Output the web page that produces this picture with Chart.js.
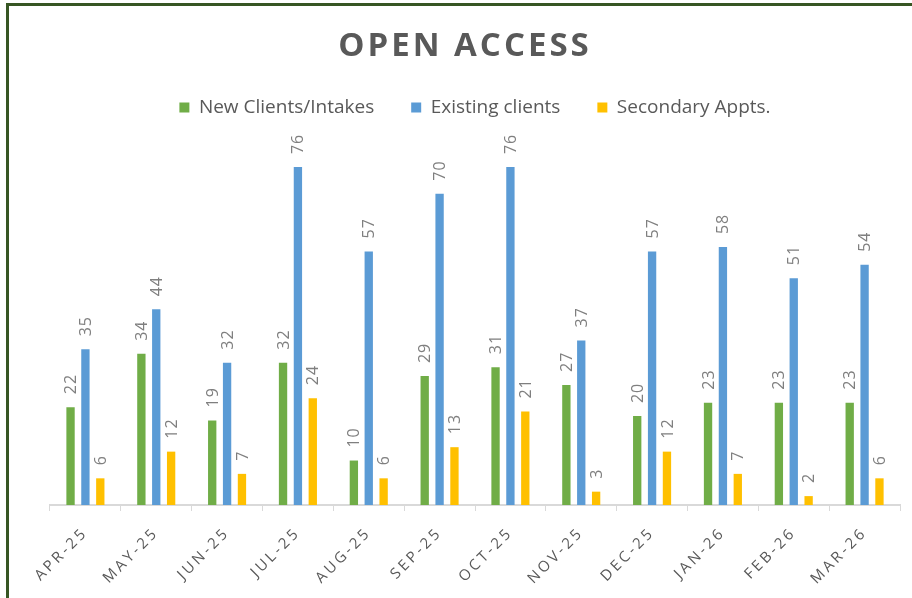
<!DOCTYPE html>
<html>
<head>
<meta charset="utf-8">
<script src="https://cdn.jsdelivr.net/npm/chart.js@4"></script>
<style>
html, body { margin: 0; padding: 0; background: #fff; overflow: hidden; }
#wrap { position: relative; width: 912px; height: 598px; }
#frame { position: absolute; left: 6px; top: 3px; width: 940px; height: 640px; border: 3px solid #375623; box-sizing: border-box; pointer-events: none; }
canvas { position: absolute; left: 0; top: 0; }
</style>
</head>
<body>
<div id="wrap">
  <canvas id="myChart" width="912" height="598"></canvas>
  <div id="frame"></div>
</div>
<script>
const chartTitle = 'OPEN ACCESS';
const months = ['APR-25', 'MAY-25', 'JUN-25', 'JUL-25', 'AUG-25', 'SEP-25', 'OCT-25', 'NOV-25', 'DEC-25', 'JAN-26', 'FEB-26', 'MAR-26'];
const newClients = [22, 34, 19, 32, 10, 29, 31, 27, 20, 23, 23, 23];
const existingClients = [35, 44, 32, 76, 57, 70, 76, 37, 57, 58, 51, 54];
const secondaryAppts = [6, 12, 7, 24, 6, 13, 21, 3, 12, 7, 2, 6];

const canvas = document.getElementById('myChart');

// category axis with spaced-out labels, like the original
class SpacedCategoryScale extends Chart.CategoryScale {
    drawLabels(area) {
        const ctx = this.ctx;
        const old = ctx.letterSpacing;
        ctx.letterSpacing = '3px';
        super.drawLabels(area);
        ctx.letterSpacing = old;
    }
}
SpacedCategoryScale.id = 'spacedCategory';
SpacedCategoryScale.defaults = Chart.CategoryScale.defaults;
Chart.register(SpacedCategoryScale);

const spacedTitle = {
    id: 'spacedTitle',
    afterDraw(chart) {
        const ctx = chart.ctx;
        ctx.save();
        ctx.font = 'bold 33px "Open Sans"';
        ctx.letterSpacing = '3px';
        ctx.fillStyle = '#595959';
        ctx.textAlign = 'center';
        ctx.textBaseline = 'middle';
        ctx.fillText(chartTitle, 465, 47);
        ctx.restore();
    }
};

const barLabels = {
    id: 'barLabels',
    afterDatasetsDraw(chart) {
        const ctx = chart.ctx;
        ctx.save();
        ctx.font = '16px "Open Sans"';
        ctx.letterSpacing = '1px';
        ctx.fillStyle = '#7f7f7f';
        ctx.textAlign = 'left';
        ctx.textBaseline = 'middle';
        chart.data.datasets.forEach((ds, i) => {
            chart.getDatasetMeta(i).data.forEach((bar, j) => {
                ctx.save();
                ctx.translate(bar.x + 1, bar.y - 13);
                ctx.rotate(-Math.PI / 2);
                ctx.fillText(String(ds.data[j]), 0, 0);
                ctx.restore();
            });
        });
        ctx.restore();
    }
};

const myChart = new Chart(canvas.getContext('2d'), {
    type: 'bar',
    data: {
        labels: months,
        datasets: [{
            label: 'New Clients/Intakes',
            data: newClients,
            backgroundColor: '#70ad47'
        }, {
            label: 'Existing clients',
            data: existingClients,
            backgroundColor: '#5b9bd5'
        }, {
            label: 'Secondary Appts.',
            data: secondaryAppts,
            backgroundColor: '#ffc000'
        }]
    },
    options: {
        responsive: false,
        animation: false,
        devicePixelRatio: 1,
        categoryPercentage: 0.63,
        barPercentage: 0.56,
        layout: { padding: { left: 50, right: 12, top: 61, bottom: 0 } },
        plugins: {
            legend: {
                position: 'top',
                labels: {
                    boxWidth: 10,
                    boxHeight: 10,
                    padding: 37,
                    color: '#595959',
                    font: { family: '"Open Sans"', size: 19 }
                }
            },
            tooltip: { enabled: false }
        },
        scales: {
            x: {
                type: 'spacedCategory',
                grid: {
                    offset: true,
                    drawOnChartArea: false,
                    drawTicks: true,
                    tickLength: 6,
                    color: '#d9d9d9'
                },
                border: { display: true, color: '#d9d9d9', width: 2 },
                ticks: {
                    minRotation: 45,
                    maxRotation: 45,
                    padding: 13,
                    color: '#595959',
                    font: { family: '"Open Sans"', size: 15 }
                },
                afterFit(scale) {
                    scale.paddingLeft = 0;
                    scale.paddingRight = 0;
                    scale.height = 93;
                }
            },
            y: {
                display: false,
                min: 0,
                max: 85
            }
        }
    },
    plugins: [barLabels, spacedTitle]
});
</script>
</body>
</html>
